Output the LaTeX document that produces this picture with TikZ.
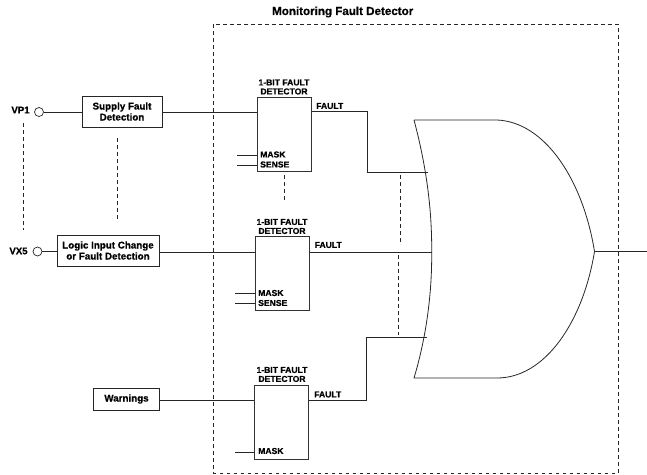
\documentclass[tikz,border=0pt]{standalone}
\usepackage{fontspec}
\setmainfont[BoldFeatures={FakeBold=0.6}]{Liberation Sans}
\tikzset{
  ln/.style={line width=0.8pt,black!85},
  dsh/.style={line width=0.8pt,black!85,dash pattern=on 3.5pt off 3.5pt},
  boxn/.style={draw=black!85,line width=1pt,fill=white,minimum width=#1,inner sep=0pt,align=center,font=\bfseries\fontsize{9.8}{11}\selectfont},
  det/.style={draw=black!80,line width=1pt,minimum width=54pt,minimum height=74pt,inner sep=0pt},
  lbl/.style={inner sep=0pt,align=center,font=\bfseries\fontsize{8.6}{9}\selectfont},
  pin/.style={draw=black!85,line width=0.7pt,circle,minimum size=9pt,inner sep=0pt},
}
\begin{document}
\begin{tikzpicture}[x=1pt,y=-1pt]
\useasboundingbox (0,0) rectangle (647,474);
% outer frame
\coordinate (fa) at (213.5,24); \coordinate (fb) at (618,473);
\draw[dsh] (fa) rectangle (fb);
\node[lbl,font=\bfseries\fontsize{11.6}{12}\selectfont] (title) at (342.7,12) {Monitoring Fault Detector};
% inputs
\node[lbl,font=\bfseries\fontsize{9.6}{10}\selectfont] (vp1t) at (20.5,110) {VP1};
\node[pin] (vp1) at (39,112) {};
\node[lbl,font=\bfseries\fontsize{9.6}{10}\selectfont] (vx5t) at (18.5,251) {VX5};
\node[pin] (vx5) at (37.5,251.5) {};
\node[boxn=80pt,minimum height=31pt] (sf) at (122,111.5) {Supply Fault\\Detection};
\node[boxn=102pt,minimum height=31pt] (lf) at (108,250.5) {Logic Input Change\\or Fault Detection};
\node[boxn=66pt,minimum height=22pt] (wa) at (126.5,399) {Warnings};
% detectors
\node[det] (d1) at (284,134) {};
\node[det] (d2) at (282,273) {};
\node[det] (d3) at (281.5,422) {};
\node[lbl] (d1t) at (284,87) {1-BIT FAULT\\DETECTOR};
\node[lbl] (d2t) at (282,226.5) {1-BIT FAULT\\DETECTOR};
\node[lbl] (d3t) at (282,374.5) {1-BIT FAULT\\DETECTOR};
\node[lbl,anchor=west] (f1) at (316,106) {FAULT};
\node[lbl,anchor=west] (f2) at (314.5,245) {FAULT};
\node[lbl,anchor=west] (f3) at (314,394.5) {FAULT};
\node[lbl,anchor=west] (m1) at (260,154.5) {MASK};
\node[lbl,anchor=west] (s1) at (260,164.5) {SENSE};
\node[lbl,anchor=west] (m2) at (258,293) {MASK};
\node[lbl,anchor=west] (s2) at (258,303) {SENSE};
\node[lbl,anchor=west] (m3) at (258,451) {MASK};
% side stubs
\coordinate (m1s) at (237,155.5); \coordinate (s1s) at (237,165.5);
\coordinate (m2s) at (235,293.5); \coordinate (s2s) at (235,303.5);
\coordinate (m3s) at (235,452);
\draw[ln] (m1s) -- (m1s -| d1.west);
\draw[ln] (s1s) -- (s1s -| d1.west);
\draw[ln] (m2s) -- (m2s -| d2.west);
\draw[ln] (s2s) -- (s2s -| d2.west);
\draw[ln] (m3s) -- (m3s -| d3.west);
% gate
\coordinate (g1) at (414,120); \coordinate (g2) at (497,120);
\coordinate (tip) at (594.5,251.5);
\coordinate (g3) at (497,378); \coordinate (g4) at (414,378);
\coordinate (i1) at (427.5,172.5); \coordinate (i2) at (431.7,252); \coordinate (i3) at (426.5,337.5);
\coordinate (out) at (647,251.5);
\draw[ln,line join=round] (g1) -- (g2)
  .. controls (545,122) and (583,180) .. (tip)
  .. controls (583,322) and (545,378) .. (g3) -- (g4)
  .. controls (426,338) and (432,295) .. (i2)
  .. controls (432,208) and (426,165) .. (g1);
% connectors
\draw[ln] (vp1) -- (sf.west |- vp1);
\draw[ln] (sf.east |- vp1) -- (d1.west |- vp1);
\draw[ln] (vx5) -- (lf.west |- vx5);
\draw[ln] (lf.east |- i2) -- (d2.west |- i2);
\draw[ln] (wa.east |- 0,400) -- (d3.west |- 0,400);
\draw[ln] (d1.east |- 0,111) -| (367,172.5) -- (i1);
\draw[ln] (d2.east |- i2) -- (i2);
\draw[ln] (d3.east |- 0,400) -| (366,337.5) -- (i3);
\draw[ln] (tip) -- (out);
% continuation dashes
\coordinate (a1) at (23,123); \coordinate (a2) at (23,230);
\coordinate (b1) at (117,138); \coordinate (b2) at (117,222);
\coordinate (c1) at (284.5,175); \coordinate (c2) at (284.5,203);
\coordinate (e1) at (400,175); \coordinate (e2) at (400,245);
\coordinate (e3) at (398,255); \coordinate (e4) at (398,335);
\draw[dsh] (a1) -- (a2);
\draw[dsh] (b1) -- (b2);
\draw[dsh] (c1) -- (c2);
\draw[dsh] (e1) -- (e2);
\draw[dsh] (e3) -- (e4);
\end{tikzpicture}
\end{document}
